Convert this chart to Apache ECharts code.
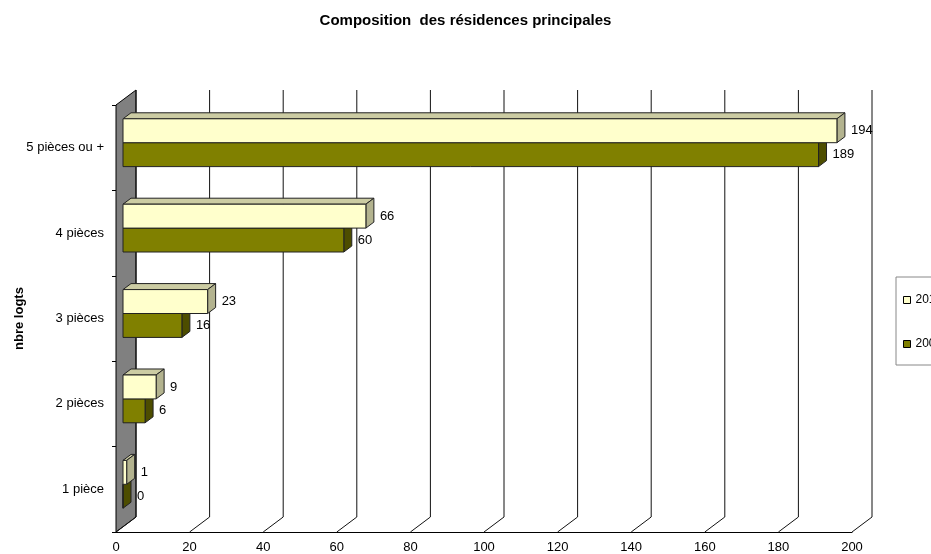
<!DOCTYPE html>
<html>
<head>
<meta charset="utf-8">
<script src="https://cdn.jsdelivr.net/npm/echarts@6/dist/echarts.min.js"></script>
<style>
  html, body { margin: 0; padding: 0; background: #fff; }
  #main { width: 931px; height: 554px; }
</style>
</head>
<body>
<div id="main"></div>
<script>
// données du graphique
var categories = ['1 pièce', '2 pièces', '3 pièces', '4 pièces', '5 pièces ou +']
var years = ['2012', '2007']
var values2012 = [1, 9, 23, 66, 194]
var values2007 = [0, 6, 16, 60, 189]
var xTicks = [0, 20, 40, 60, 80, 100, 120, 140, 160, 180, 200]

var FONT = "'Liberation Sans', Arial, sans-serif"
// profondeur du mur du fond (pseudo 3D)
var DX = 20, DY = -15
// decalage de la face avant des barres et profondeur des barres
var BX = 7, BY = -5, PX = 8, PY = -6

var chart = echarts.init(document.getElementById('main'))

function toPairs(arr) {
  return arr.map(function(v, i) { return [v, i] })
}

// barre 3D : face avant + dessus + cote + etiquette
function barRenderer(upper, front, top, side) {
  return function(params, api) {
    var v = api.value(0)
    var c = api.value(1)
    var p0 = api.coord([0, c])
    var p1 = api.coord([v, c])
    var band = api.size([0, 1])[1]
    var h = band * 0.28
    var mid = p0[1] + BY
    var y0 = upper ? mid - h : mid
    var y1 = upper ? mid : mid + h
    var x0 = p0[0] + BX
    var x1 = p1[0] + BX
    var st = { stroke: '#222', lineWidth: 1 }
    return {
      type: 'group',
      children: [
        {
          type: 'polygon',
          shape: { points: [[x0, y0], [x0 + PX, y0 + PY], [x1 + PX, y0 + PY], [x1, y0]] },
          style: Object.assign({ fill: top }, st)
        },
        {
          type: 'polygon',
          shape: { points: [[x1, y0], [x1 + PX, y0 + PY], [x1 + PX, y1 + PY], [x1, y1]] },
          style: Object.assign({ fill: side }, st)
        },
        {
          type: 'rect',
          shape: { x: x0, y: y0, width: x1 - x0, height: y1 - y0 },
          style: Object.assign({ fill: front }, st)
        },
        {
          type: 'text',
          x: x1 + PX + 6,
          y: (y0 + y1) / 2,
          style: {
            text: String(v),
            fill: '#000',
            font: '13px ' + FONT,
            align: 'left',
            verticalAlign: 'middle'
          }
        }
      ]
    }
  }
}

chart.setOption({
  animation: false,
  title: {
    text: 'Composition  des résidences principales',
    left: 'center',
    top: 8,
    textStyle: { fontSize: 15, fontWeight: 'bold', color: '#000', fontFamily: FONT }
  },
  legend: {
    data: years,
    orient: 'vertical',
    left: 896,
    top: 277,
    padding: [17, 20, 15, 7],
    itemWidth: 7,
    itemHeight: 7,
    itemGap: 32,
    icon: 'rect',
    borderColor: '#888',
    borderWidth: 1,
    borderRadius: 0,
    itemStyle: { borderColor: '#000', borderWidth: 1 },
    textStyle: { fontSize: 12, color: '#000', fontFamily: FONT }
  },
  grid: {
    left: 116,
    right: 79,
    top: 105,
    bottom: 22,
    containLabel: false,
    outerBoundsMode: 'none'
  },
  xAxis: {
    type: 'value',
    min: 0,
    max: 200,
    interval: 20,
    splitLine: { show: false },
    axisTick: { show: false },
    axisLine: { show: true, lineStyle: { color: '#000', width: 1 } },
    axisLabel: { fontSize: 13, color: '#000', fontFamily: FONT, margin: 9 }
  },
  yAxis: {
    type: 'category',
    data: categories,
    name: 'nbre logts',
    nameLocation: 'middle',
    nameGap: 90,
    nameMoveOverlap: false,
    nameTextStyle: { fontSize: 13, fontWeight: 'bold', color: '#000', fontFamily: FONT },
    axisLine: { show: true, lineStyle: { color: '#000', width: 1 } },
    axisTick: { show: true, length: 4, lineStyle: { color: '#000' } },
    axisLabel: { fontSize: 13, color: '#000', fontFamily: FONT, margin: 12 },
    splitLine: { show: false }
  },
  series: [
    {
      // mur lateral gris
      type: 'custom',
      silent: true,
      z: 1,
      data: [[0, 0]],
      renderItem: function(params, api) {
        var cs = params.coordSys
        var x = cs.x, yt = cs.y, yb = cs.y + cs.height
        return {
          type: 'polygon',
          shape: { points: [[x, yt], [x + DX, yt + DY], [x + DX, yb + DY], [x, yb]] },
          style: { fill: '#808080', stroke: '#000', lineWidth: 1 }
        }
      }
    },
    {
      // quadrillage du fond et du sol
      type: 'custom',
      silent: true,
      z: 1,
      data: xTicks.map(function(t) { return [t, 0] }),
      renderItem: function(params, api) {
        var cs = params.coordSys
        var yt = cs.y, yb = cs.y + cs.height
        var x = api.coord([api.value(0), 0])[0]
        return {
          type: 'polyline',
          shape: { points: [[x + DX, yt + DY], [x + DX, yb + DY], [x, yb]] },
          style: { stroke: '#111', lineWidth: 1, fill: null }
        }
      }
    },
    {
      name: years[0],
      type: 'custom',
      z: 4,
      itemStyle: { color: '#FFFFCC' },
      data: toPairs(values2012),
      encode: { x: 0, y: 1 },
      renderItem: barRenderer(true, '#FFFFCC', '#CCCCA3', '#B3B38F')
    },
    {
      name: years[1],
      type: 'custom',
      z: 3,
      itemStyle: { color: '#808000' },
      data: toPairs(values2007),
      encode: { x: 0, y: 1 },
      renderItem: barRenderer(false, '#808000', '#666600', '#4D4D00')
    }
  ]
})
</script>
</body>
</html>
